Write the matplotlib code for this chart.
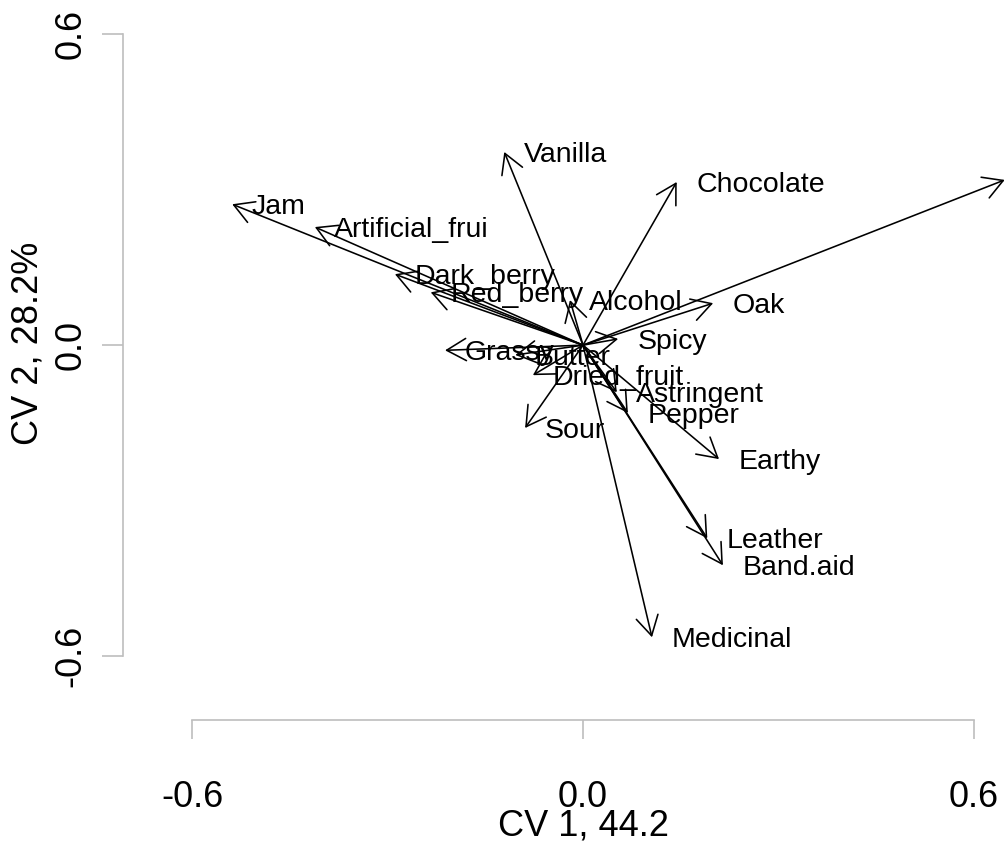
import matplotlib
matplotlib.use('Agg')
import matplotlib.pyplot as plt

plt.rcParams['font.family'] = ['Liberation Sans', 'DejaVu Sans']

# canonical variate loadings of the sensory attributes
attributes = ['Jam', 'Artificial_frui', 'Dark_berry', 'Red_berry', 'Vanilla',
              'Chocolate', '', 'Alcohol', 'Oak', 'Spicy', 'Grassy', 'Butter',
              'Dried_fruit', 'Astringent', 'Pepper', 'Sour', 'Earthy',
              'Leather', 'Band.aid', 'Medicinal']
cv1 = [-0.539, -0.412, -0.289, -0.234, -0.121, 0.144, 0.648, -0.020, 0.200,
       0.054, -0.212, -0.104, -0.077, 0.052, 0.069, -0.089, 0.209, 0.191,
       0.215, 0.106]
cv2 = [0.272, 0.228, 0.137, 0.102, 0.373, 0.315, 0.319, 0.087, 0.081, 0.012,
       -0.010, -0.019, -0.058, -0.091, -0.131, -0.160, -0.220, -0.373,
       -0.425, -0.564]

ticks = [-0.6, 0.0, 0.6]
tick_labels = ['-0.6', '0.0', '0.6']
xlab = 'CV 1, 44.2'
ylab = 'CV 2, 28.2%'

fig = plt.figure(figsize=(10.08, 8.46), dpi=100)
ax = fig.add_axes([0.1419, 0.1726, 0.8581, 0.8156])
ax.set_xlim(-0.676, 0.653)
ax.set_ylim(-0.685, 0.647)

for name, x, y in zip(attributes, cv1, cv2):
    ax.annotate('', xy=(x, y), xytext=(0, 0),
                arrowprops=dict(arrowstyle='->,head_length=14,head_width=8',
                                mutation_scale=1, lw=1.15, color='black',
                                shrinkA=0, shrinkB=0),
                annotation_clip=False)
    if name:
        ax.annotate(name, xy=(x, y), xytext=(14, -2), textcoords='offset points',
                    ha='left', va='center', fontsize=20.5)

grey = '#bebebe'
for side in ['top', 'right']:
    ax.spines[side].set_visible(False)
for side in ['left', 'bottom']:
    ax.spines[side].set_position(('outward', 14.4))
    ax.spines[side].set_bounds(-0.6, 0.6)
    ax.spines[side].set_color(grey)
    ax.spines[side].set_linewidth(1.2)

ax.set_xticks(ticks)
ax.set_xticklabels(tick_labels, fontsize=26)
ax.set_yticks(ticks)
ax.set_yticklabels(tick_labels, fontsize=26, rotation=90, va='center')
ax.tick_params(axis='x', length=14, width=1.2, color=grey, pad=29)
ax.tick_params(axis='y', length=15, width=1.2, color=grey, pad=10)

fig.text(583 / 1008, 1 - 826 / 846, xlab, ha='center', va='center', fontsize=26)
fig.text(28 / 1008, 1 - 343 / 846, ylab, ha='center', va='center',
         rotation=90, fontsize=26)

fig.savefig('out.png', dpi=100)
